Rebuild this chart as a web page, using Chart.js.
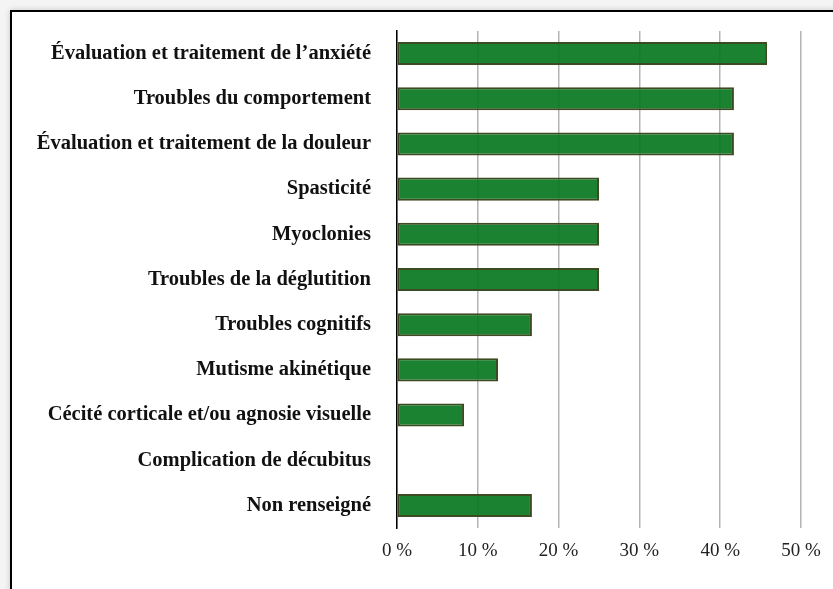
<!DOCTYPE html>
<html>
<head>
<meta charset="utf-8">
<script src="https://cdn.jsdelivr.net/npm/chart.js@4"></script>
<style>
  html, body { margin: 0; padding: 0; background: #f4f4f4; overflow: hidden; }
  #frame {
    position: absolute; left: 10px; top: 10px;
    width: 840px; height: 600px;
    background: #fff; border: 2px solid #000;
    box-shadow: 0 0 6px rgba(0,0,0,0.18);
  }
  #wrap { position: absolute; left: 0; top: 0; width: 821px; height: 577px; }
</style>
</head>
<body>
<div id="frame"><div id="wrap"><canvas id="chart"></canvas></div></div>
<script>
const categories = [
  "Évaluation et traitement de l’anxiété",
  "Troubles du comportement",
  "Évaluation et traitement de la douleur",
  "Spasticité",
  "Myoclonies",
  "Troubles de la déglutition",
  "Troubles cognitifs",
  "Mutisme akinétique",
  "Cécité corticale et/ou agnosie visuelle",
  "Complication de décubitus",
  "Non renseigné"
];
const percents = [45.8, 41.7, 41.7, 25, 25, 25, 16.7, 12.5, 8.3, 0, 16.7];
const xTicks = [0, 10, 20, 30, 40, 50];

const serif = "'Liberation Serif', 'Times New Roman', serif";

new Chart(document.getElementById("chart"), {
  type: "bar",
  data: {
    labels: categories,
    datasets: [
      {
        data: percents,
        backgroundColor: "rgba(7,119,32,0.92)",
        borderColor: "#3d4b23",
        borderWidth: 2,
        borderSkipped: false,
        categoryPercentage: 1,
        barPercentage: 0.51,
      },
    ],
  },
  options: {
    indexAxis: "y",
    responsive: true,
    maintainAspectRatio: false,
    animation: false,
    layout: { padding: { top: 19, right: 32, left: 0, bottom: 0 } },
    plugins: {
      legend: { display: false },
      tooltip: { enabled: false },
    },
    scales: {
      x: {
        min: 0,
        max: 50,
        afterBuildTicks: (scale) => {
          scale.ticks = xTicks.map((v) => ({ value: v }));
        },
        afterFit: (scale) => {
          scale.height = 61;
        },
        grid: { color: "#b4b4b4", lineWidth: 1.5, drawTicks: false },
        border: { display: false },
        ticks: {
          padding: 12,
          color: "#222",
          font: { family: serif, size: 19 },
          callback: (v) => v + " %",
        },
      },
      y: {
        afterFit: (scale) => {
          scale.width = 385;
          scale.paddingTop = 0;
          scale.paddingBottom = 0;
        },
        grid: { display: false, drawTicks: false },
        border: { display: true, color: "#000", width: 1.5 },
        ticks: {
          padding: 26,
          color: "#111",
          font: { family: serif, size: 20.5, weight: "bold" },
        },
      },
    },
  },
});
</script>
</body>
</html>
